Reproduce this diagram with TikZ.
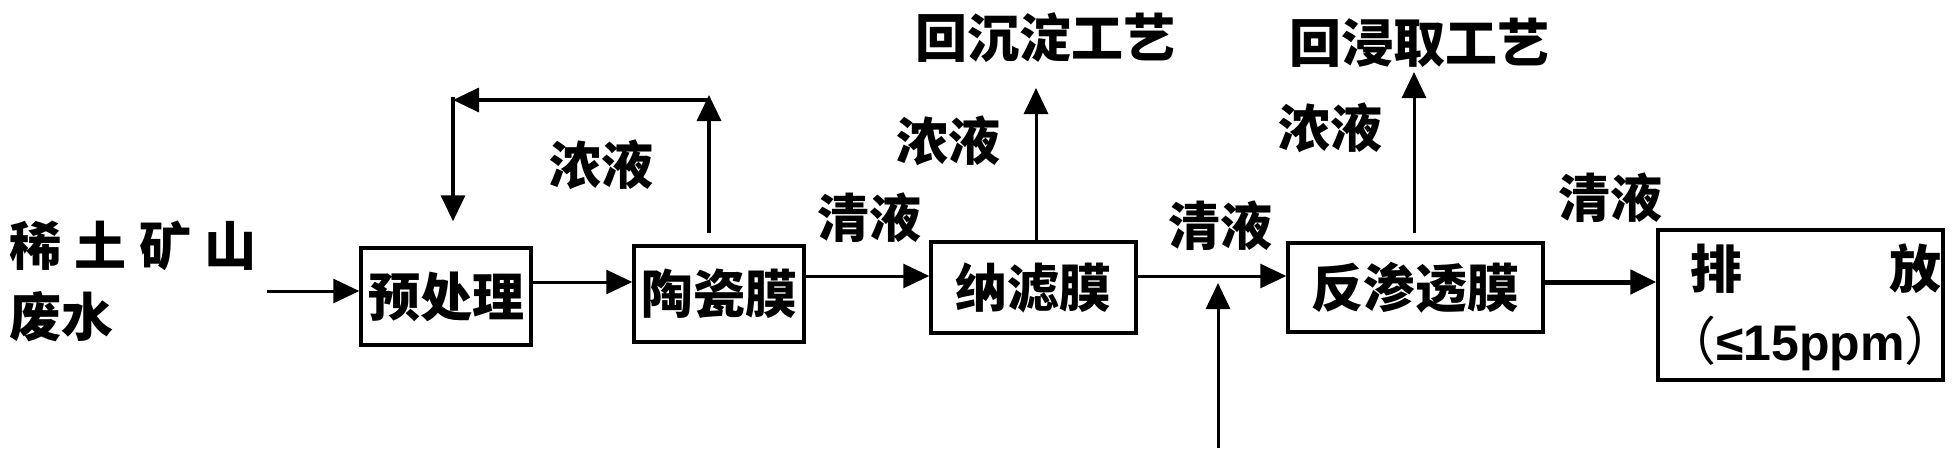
\documentclass[tikz,border=0pt]{standalone}
\usepackage{fontspec}
\setmainfont{Noto Sans CJK SC}
\newfontfamily\latinf{Liberation Sans}
\usetikzlibrary{arrows.meta}
\begin{document}
\begin{tikzpicture}[x=1pt,y=-1pt,
  cjk/.style={inner sep=0pt, font=\bfseries\fontsize{52}{56}\selectfont},
  box/.style={draw, line width=3.5pt, inner sep=0pt, font=\bfseries\fontsize{52}{56}\selectfont},
  arr/.style={line width=3pt, -{Triangle[length=26pt,width=24pt]}},
  thickarr/.style={line width=5pt, -{Triangle[length=26pt,width=24pt]}}]
\useasboundingbox[fill=white] (0,0) rectangle (1957,463);
% boxes
\node[box, minimum width=170pt, minimum height=97pt] (pre) at (446,296.5) {预处理};
\node[box, minimum width=170pt, minimum height=96pt] (cer) at (719,294) {陶瓷膜};
\node[box, minimum width=205pt, minimum height=91pt] (nf) at (1033.5,287.5) {纳滤膜};
\node[box, minimum width=255pt, minimum height=89pt] (ro) at (1415.5,287.5) {反渗透膜};
\node[box, minimum width=285pt, minimum height=150pt] (out) at (1800.5,305) {};
\node[cjk] (p1) at (1716,269) {排};
\node[cjk] (p2) at (1915,269) {放};
\node[cjk, anchor=west] (p3) at (1664,343) {\mdseries（{\latinf\bfseries\fontsize{50}{56}\selectfont ≤15ppm}）};
% labels
\node[cjk, anchor=west] (src1) at (9,246) {\makebox[247pt][s]{稀\hfill 土\hfill 矿\hfill 山}};
\node[cjk, anchor=west] (src2) at (9,317) {废水};
\node[cjk] (l1) at (601,165) {浓液};
\node[cjk] (l2) at (869,218) {清液};
\node[cjk] (prec) at (1045,38) {回沉淀工艺};
\node[cjk] (l3) at (948,141) {浓液};
\node[cjk] (l4) at (1220,226) {清液};
\node[cjk] (leach) at (1419,43) {回浸取工艺};
\node[cjk] (l5) at (1330,128) {浓液};
\node[cjk] (l6) at (1610,198) {清液};
% coordinates
\coordinate (in) at (267,291);
\coordinate (tr) at (709,100);
\coordinate (tl) at (453,100);
\coordinate (t1) at (1036,88);
\coordinate (t2) at (1414,72);
\coordinate (bot) at (1218,448);
\coordinate (junc) at (1218,276);
% connectors
\draw[arr] (in) -- (in -| pre.west);
\draw[arr] ([yshift=14.5pt]pre.east) -- ([yshift=12pt]cer.west);
\draw[arr] ([yshift=18pt]cer.east) -- ([yshift=18pt]cer.east -| nf.west);
\draw[arr] ([yshift=11.5pt]nf.east) -- ([yshift=11.5pt]nf.east -| ro.west);
\draw[thickarr] ([yshift=5.5pt]ro.east) -- ([yshift=5.5pt]ro.east -| out.west);
\draw[arr] (bot) -- ([yshift=-7pt]junc);
\draw[arr] ([xshift=2.5pt]nf.north) -- (t1);
\draw[arr] ([yshift=8pt]ro.north -| t2) -- (t2);
% recirculation loop
\draw[arr, line width=3.5pt] ([xshift=-10pt,yshift=11pt]cer.north) -- ([yshift=5pt]tr);
\draw[arr, line width=3.5pt] (tr) -- (tl);
\draw[arr, line width=3.5pt] ([yshift=3pt]tl) -- ([yshift=25pt]pre.north -| tl);
\end{tikzpicture}
\end{document}
